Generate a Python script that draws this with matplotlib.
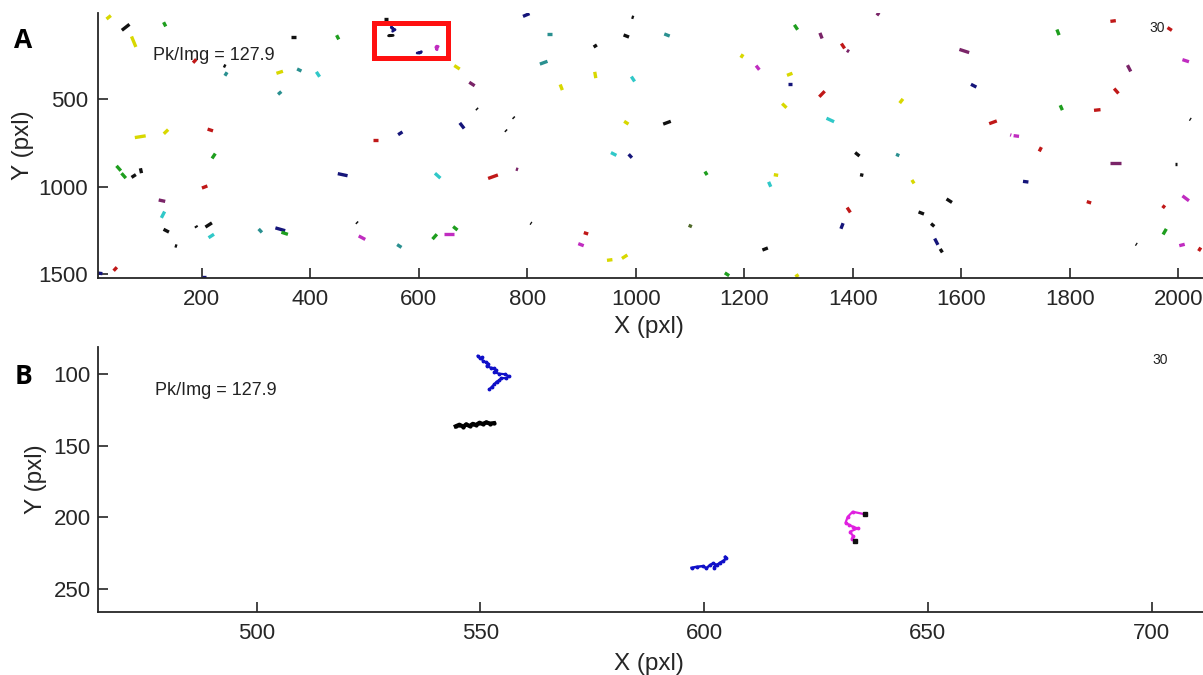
import matplotlib
matplotlib.use("Agg")
import matplotlib.pyplot as plt
from matplotlib.patches import Rectangle

plt.rcParams['font.family'] = ['Liberation Sans', 'DejaVu Sans']

# ---------------- data ----------------
# Panel A: short tracks (centre x, centre y, half-extent dx, dy, colour code)
trk_x = [28.6, 59.9, 131.8, 74.7, 187.1, 242.4, 244.8, 343.8, 379.9, 414.4, 343.8, 369.6, 450.7,
         86.8, 134.2, 215.9, 222.1, 47.0, 56.2, 74.7, 88.1, 205.5, 126.8, 128.7, 134.7, 190.0,
         212.9, 217.7, 152.6, 308.0, 344.9, 353.0, 459.9, 520.7, 486.3, 495.5, 40.7, 12.0, 203.7,
         539.2, 798.3, 841.5, 830.4, 670.6, 698.2, 925.5, 925.5, 862.8, 982.7, 994.5, 1057.7, 995.0,
         707.5, 775.1, 760.9, 679.8, 566.1, 982.7, 1057.7, 959.4, 990.0, 635.0, 737.0, 781.2, 807.0,
         667.5, 629.5, 655.3, 564.3, 908.4, 899.2, 952.1, 979.7, 1100.6, 1446.6, 1295.5, 1341.6,
         1382.1, 1391.3, 1195.9, 1224.9, 1283.9, 1285.0, 1343.4, 1274.0, 1358.7, 1489.6, 1605.7,
         1623.0, 1658.6, 1408.5, 1482.9, 1129.6, 1258.6, 1247.0, 1416.6, 1511.1, 1392.7, 1380.3,
         1526.4, 1578.0, 1547.4, 1554.1, 1563.3, 1238.6, 1168.3, 1297.3, 1880.0, 1778.4, 1909.5,
         1885.9, 2013.8, 1784.5, 1850.8, 2022.3, 1701.6, 1691.3, 1745.8, 1884.0, 1996.5, 1718.9,
         1835.5, 2013.8, 1973.3, 1975.1, 1922.8, 2007.0, 2039.6, 1984.3]
trk_y = [30.9, 88.1, 71.0, 170.5, 280.9, 309.5, 355.3, 345.5, 332.4, 357.0, 464.0, 141.9, 145.3,
         714.0, 685.4, 675.6, 824.4, 894.7, 937.0, 938.8, 908.5, 1001.7, 1080.0, 1160.2, 1251.7, 1228.8,
         1219.0, 1282.0, 1339.2, 1251.7, 1243.7, 1266.6, 931.3, 731.1, 1205.9, 1291.7, 1470.8, 1495.4, 1516.0,
         42.3, 17.7, 126.4, 290.6, 316.9, 412.5, 195.1, 361.0, 431.3, 137.9, 30.9, 132.2, 383.9,
         555.5, 605.3, 679.6, 651.0, 694.5, 633.9, 633.9, 812.9, 824.4, 937.1, 942.8, 900.5, 1209.4,
         1238.0, 1286.0, 1270.6, 1339.2, 1266.6, 1331.8, 1419.3, 1400.5, 1224.8, 12.0, 88.0, 136.2,
         195.1, 223.7, 252.3, 319.2, 357.0, 414.2, 469.7, 536.6, 618.4, 509.7, 223.7,
         422.2, 631.6, 814.6, 818.6, 923.3, 933.1, 986.3, 933.1, 971.4, 1133.3, 1224.8,
         1150.5, 1080.1, 1219.1, 1314.6, 1366.1, 1356.4, 1501.1, 1509.1, 52.1, 116.7, 322.7,
         452.5, 279.2, 548.1, 561.2, 614.4, 710.0, 704.2, 786.0, 866.1, 871.9, 971.4,
         1089.2, 1066.4, 1114.4, 1257.4, 1329.5, 1333.5, 1358.1, 97.8]
trk_dx = [4, 7, 2, 4, 3, 2, 2, 6, 4, 3, 3, 5, 2,
          10, 4, 5, 3, 4, 4, 4, 1, 5, 6, 3, 5, 1,
          6, 5, 2, 3, 9, 6, 9, 4, 1, 6, 3, 5, 4,
          4, 6, 5, 7, 5, 5, 3, 1, 2, 5, 2, 5, 3,
          1, 1, 1, 4, 4, 4, 7, 5, 3, 5, 9, 2, 1,
          4, 4, 9, 4, 4, 5, 5, 5, 3, 2, 3, 2,
          3, 2, 2, 3, 5, 4, 5, 4, 7, 3, 9,
          5, 7, 4, 3, 2, 4, 2, 3, 2, 3, 2,
          5, 5, 3, 3, 2, 5, 4, 3, 5, 2, 3,
          4, 6, 2, 6, 1, 5, 1, 2, 10, 2, 5,
          4, 6, 2, 3, 1, 5, 2, 4]
trk_dy = [-10, -17, 12, 30, -10, 3, -10, -6, 6, 14, -8, 0, 12,
          -5, -12, 5, -14, 14, 14, -8, 14, -6, 4, -18, 8, 5,
          -12, -10, 2, 10, 8, 6, 6, 0, 3, 10, -10, 2, 0,
          0, -8, 0, -8, 10, 10, -6, 18, 16, 6, 2, 6, 14,
          3, 3, 3, 16, -8, 8, -8, 8, 10, 14, -10, 2, 2,
          10, -14, 0, 8, 4, 6, -2, -10, 4, -8, 14, 16,
          14, 4, -10, 12, -6, 0, -16, 12, 10, -12, 9,
          8, -8, 10, 4, 10, 2, 14, 2, 10, 14, -16,
          6, 10, 8, 18, 10, -6, 8, -6, -2, 16, 18,
          14, 6, 14, -2, 2, 2, 1, -12, 0, 0, 2,
          4, 14, -8, -16, 2, -4, -10, 8]
trk_col = ['y', 'k', 'g', 'y', 'r', 'k', 't', 'y', 't', 'c', 't', 'k', 'g',
           'y', 'y', 'r', 'g', 'g', 'g', 'k', 'k', 'r', 'p', 'c', 'k', 'k',
           'k', 'c', 'k', 't', 'b', 'g', 'b', 'r', 'k', 'm', 'r', 'b', 'b',
           'k', 'b', 't', 't', 'y', 'p', 'k', 'y', 'y', 'k', 'k', 't', 'c',
           'k', 'k', 'k', 'b', 'b', 'y', 'k', 'c', 'b', 'c', 'r', 'p', 'k',
           'g', 'g', 'm', 't', 'r', 'm', 'y', 'y', 'o', 'p', 'g', 'p',
           'r', 'p', 'y', 'm', 'y', 'b', 'r', 'y', 'c', 'y', 'p',
           'b', 'r', 'k', 't', 'g', 'y', 'c', 'k', 'y', 'r', 'b',
           'k', 'k', 'k', 'b', 'k', 'k', 'g', 'y', 'r', 'g', 'p',
           'r', 'm', 'g', 'r', 'k', 'm', 'm', 'r', 'p', 'k', 'b',
           'r', 'm', 'r', 'g', 'k', 'm', 'r', 'r']

palette = {'k': '#111111', 'b': '#15157a', 'g': '#1e9e1e', 'y': '#d8d800', 'c': '#30c8c8',
           't': '#2a9090', 'r': '#c01818', 'm': '#c02cc0', 'p': '#7a2468', 'o': '#4f6a2a'}

# Panel B: the four tracks inside the red box (full trajectories)
blue1_x = [549.4, 549.9, 550.3, 550.5, 551.2, 551.8, 551.4, 552.3, 553.0, 553.5, 553.1, 554.2,
           555.5, 556.4, 555.7, 554.7, 554.2, 553.6, 553.1, 552.5, 552.0]
blue1_y = [87.4, 89.0, 88.3, 90.7, 91.8, 92.8, 94.4, 95.6, 96.0, 97.4, 98.8, 99.8,
           100.2, 101.6, 103.0, 102.8, 104.4, 105.4, 107.2, 109.1, 110.7]
black_x = [544.5, 545.3, 546.2, 546.8, 547.6, 548.3, 549.0, 549.8, 550.5, 551.3, 552.2, 553.0]
black_y = [136.5, 135.4, 136.8, 135.2, 136.3, 134.8, 135.6, 134.0, 134.9, 133.8, 134.6, 134.3]
blue2_x = [597.2, 598.3, 599.8, 600.5, 601.3, 602.0, 602.9, 602.2, 603.5, 604.3, 605.0, 604.7]
blue2_y = [235.2, 234.5, 234.0, 235.5, 233.3, 232.1, 233.3, 235.0, 231.7, 230.3, 228.6, 227.5]
mag_x = [636.0, 633.2, 632.1, 631.6, 632.3, 633.3, 634.3, 632.6, 633.3, 633.0, 633.8]
mag_y = [197.9, 196.1, 199.6, 203.8, 205.0, 206.6, 207.7, 210.0, 213.1, 215.0, 216.3]

peaks_text = "Pk/Img = 127.9"
frame_text = "30"
box_x, box_y, box_w, box_h = 518.5, 63.5, 135.5, 200.2

xticks_A = [200, 400, 600, 800, 1000, 1200, 1400, 1600, 1800, 2000]
yticks_A = [500, 1000, 1500]
xticks_B = [500, 550, 600, 650, 700]
yticks_B = [100, 150, 200, 250]

# ---------------- figure ----------------
fig = plt.figure(figsize=(12.03, 6.75), dpi=100)
axA = fig.add_axes([0.0811, 0.5886, 0.9189, 0.3917])
axB = fig.add_axes([0.0817, 0.0938, 0.9183, 0.3917])

spine_col = '#262626'


def style(ax, ypad):
    for s in ['top', 'right']:
        ax.spines[s].set_visible(False)
    for s in ['left', 'bottom']:
        ax.spines[s].set_color(spine_col)
        ax.spines[s].set_linewidth(1.3)
    ax.tick_params(axis='both', direction='in', length=7.5, width=1.2, color=spine_col,
                   labelsize=16, labelcolor='#262626')
    ax.tick_params(axis='x', pad=8)
    ax.tick_params(axis='y', pad=ypad)


# Panel A
for x, y, dx, dy, c in zip(trk_x, trk_y, trk_dx, trk_dy, trk_col):
    axA.plot([x - dx, x + dx], [y - dy, y + dy], color=palette[c], lw=2.4,
             solid_capstyle='butt', clip_on=True)
for tx, ty, col in [(blue1_x, blue1_y, palette['b']), (black_x, black_y, '#111111'),
                    (blue2_x, blue2_y, palette['b']), (mag_x, mag_y, palette['m'])]:
    axA.plot(tx, ty, color=col, lw=2.0, solid_capstyle='round')
axA.add_patch(Rectangle((box_x, box_y), box_w, box_h, fill=False, edgecolor='#ff1010',
                        lw=3.6, clip_on=False, zorder=5))
axA.text(110.2, 246.6, peaks_text, fontsize=13, va='center', ha='left', color='#222222')
axA.text(1946, 92, frame_text, fontsize=10, va='center', ha='left', color='#222222')
axA.set_xlim(8.1, 2045.7)
axA.set_ylim(1520.6, 8)
axA.set_xticks(xticks_A)
axA.set_yticks(yticks_A)
style(axA, 7)
axA.set_xlabel("X (pxl)", fontsize=17.5, color='#262626')
axA.set_ylabel("Y (pxl)", fontsize=17.5, color='#262626')
axA.xaxis.set_label_coords(0.4985, -0.188)
axA.xaxis.label.set_va('center')
axA.yaxis.set_label_coords(-0.0674, 0.5)
axA.yaxis.label.set_va('center')

# Panel B
axB.plot(blue1_x, blue1_y, color='#1010c8', lw=1.6, marker='.', ms=3.5)
axB.plot(black_x, black_y, color='#000000', lw=3.0, marker='.', ms=4)
axB.plot(blue2_x, blue2_y, color='#1010c8', lw=1.8, marker='.', ms=3.5)
axB.plot(mag_x, mag_y, color='#e020e0', lw=1.6, marker='.', ms=3.5)
axB.plot([mag_x[0], mag_x[-1]], [mag_y[0], mag_y[-1]], ls='none', marker='s', ms=2.5,
         color='#111111')
axB.text(477.3, 111.2, peaks_text, fontsize=13, va='center', ha='left', color='#222222')
axB.text(700.3, 90.2, frame_text, fontsize=10, va='center', ha='left', color='#222222')
axB.set_xlim(464.6, 711.5)
axB.set_ylim(265.8, 81.4)
axB.set_xticks(xticks_B)
axB.set_yticks(yticks_B)
style(axB, 5.5)
axB.set_xlabel("X (pxl)", fontsize=17.5, color='#262626')
axB.set_ylabel("Y (pxl)", fontsize=17.5, color='#262626')
axB.xaxis.set_label_coords(0.4985, -0.196)
axB.xaxis.label.set_va('center')
axB.yaxis.set_label_coords(-0.0564, 0.5)
axB.yaxis.label.set_va('center')

# Panel letters
fig.text(23 / 1203, 1 - 40 / 675, "A", fontsize=19, fontweight='bold', ha='center', va='center',
         family=['Open Sans', 'DejaVu Sans'])
fig.text(23 / 1203, 1 - 376 / 675, "B", fontsize=19, fontweight='bold', ha='center', va='center',
         family=['Open Sans', 'DejaVu Sans'])

fig.savefig("out.png", dpi=100, facecolor='white')
